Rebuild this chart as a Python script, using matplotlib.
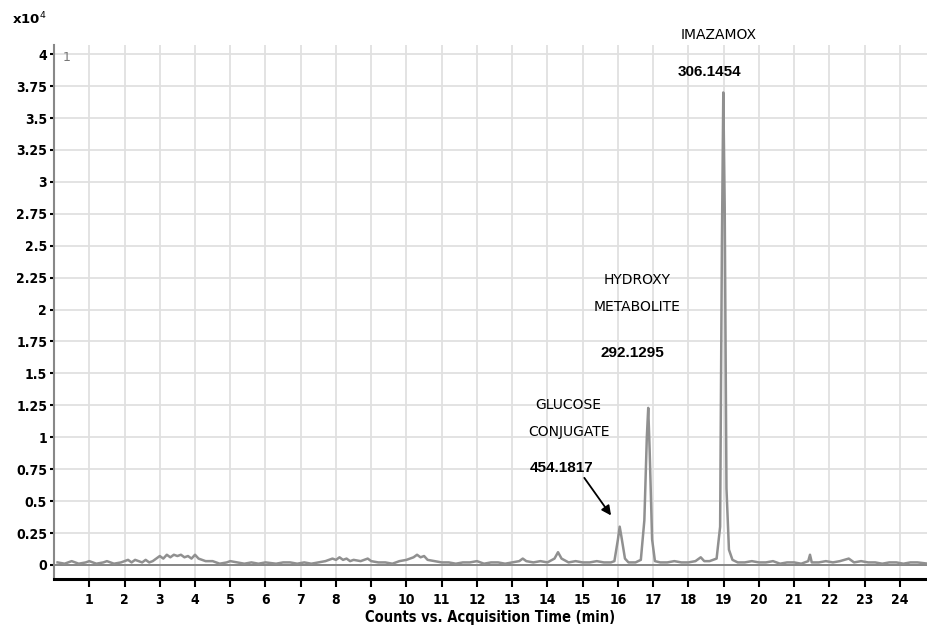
import matplotlib.pyplot as plt

# acquisition time (min) and counts (x10^4)
times = [0.1, 0.3, 0.5, 0.7, 0.9, 1.0, 1.2, 1.4, 1.5, 1.7, 1.9, 2.0, 2.1, 2.2, 2.3, 2.4,
         2.5, 2.6, 2.7, 2.8, 2.9, 3.0, 3.1, 3.2, 3.3, 3.4, 3.5, 3.6, 3.7, 3.8, 3.9, 4.0,
         4.1, 4.2, 4.3, 4.5, 4.7, 4.9, 5.0, 5.2, 5.4, 5.6, 5.8, 6.0, 6.3, 6.5, 6.7, 6.9,
         7.1, 7.3, 7.5, 7.7, 7.8, 7.9, 8.0, 8.1, 8.2, 8.3, 8.4, 8.5, 8.7, 8.9, 9.0, 9.2,
         9.4, 9.6, 9.8, 10.0, 10.2, 10.3, 10.4, 10.5, 10.6, 10.8, 11.0, 11.2, 11.4, 11.6,
         11.8, 12.0, 12.2, 12.4, 12.6, 12.8, 13.0, 13.2, 13.3, 13.4, 13.6, 13.8, 14.0,
         14.2, 14.3, 14.4, 14.6, 14.8, 15.0, 15.2, 15.4, 15.6, 15.8, 15.9, 16.0, 16.05,
         16.1, 16.2, 16.3, 16.5, 16.65, 16.75, 16.82, 16.86, 16.9, 16.97, 17.05, 17.2,
         17.4, 17.6, 17.8, 18.0, 18.2, 18.35, 18.45, 18.6, 18.8, 18.9, 18.95, 18.99,
         19.03, 19.08, 19.15, 19.25, 19.4, 19.6, 19.8, 20.0, 20.2, 20.4, 20.6, 20.8,
         21.0, 21.2, 21.4, 21.45, 21.5, 21.7, 21.9, 22.1, 22.3, 22.55, 22.7, 22.9, 23.1,
         23.3, 23.5, 23.7, 23.9, 24.1, 24.3, 24.5, 24.8]
counts = [0.02, 0.01, 0.03, 0.01, 0.02, 0.03, 0.01, 0.02, 0.03, 0.01, 0.02, 0.03, 0.04, 0.02,
          0.04, 0.03, 0.02, 0.04, 0.02, 0.03, 0.05, 0.07, 0.05, 0.08, 0.06, 0.08, 0.07, 0.08,
          0.06, 0.07, 0.05, 0.08, 0.05, 0.04, 0.03, 0.03, 0.01, 0.02, 0.03, 0.02, 0.01, 0.02,
          0.01, 0.02, 0.01, 0.02, 0.02, 0.01, 0.02, 0.01, 0.02, 0.03, 0.04, 0.05, 0.04, 0.06,
          0.04, 0.05, 0.03, 0.04, 0.03, 0.05, 0.03, 0.02, 0.02, 0.01, 0.03, 0.04, 0.06, 0.08,
          0.06, 0.07, 0.04, 0.03, 0.02, 0.02, 0.01, 0.02, 0.02, 0.03, 0.01, 0.02, 0.02, 0.01,
          0.02, 0.03, 0.05, 0.03, 0.02, 0.03, 0.02, 0.05, 0.10, 0.05, 0.02, 0.03, 0.02, 0.02,
          0.03, 0.02, 0.02, 0.03, 0.20, 0.30, 0.22, 0.05, 0.02, 0.02, 0.04, 0.35, 1.00, 1.23,
          0.90, 0.20, 0.03, 0.02, 0.02, 0.03, 0.02, 0.02, 0.03, 0.06, 0.03, 0.03, 0.05, 0.30,
          2.50, 3.70, 2.80, 0.60, 0.12, 0.04, 0.02, 0.02, 0.03, 0.02, 0.02, 0.03, 0.01, 0.02,
          0.02, 0.01, 0.03, 0.08, 0.02, 0.02, 0.03, 0.02, 0.03, 0.05, 0.02, 0.03, 0.02, 0.02,
          0.01, 0.02, 0.02, 0.01, 0.02, 0.02, 0.01]

xticks = list(range(1, 25))
yticks = [0, 0.25, 0.5, 0.75, 1, 1.25, 1.5, 1.75, 2, 2.25, 2.5, 2.75, 3, 3.25, 3.5, 3.75, 4]
ylabels = ['0', '0.25', '0.5', '0.75', '1', '1.25', '1.5', '1.75', '2', '2.25', '2.5',
           '2.75', '3', '3.25', '3.5', '3.75', '4']

tickfont = ['DejaVu Sans']

fig = plt.figure(figsize=(9.27, 6.28), dpi=100)
ax = fig.add_axes([0.0583, 0.078, 0.9417, 0.85])

ax.plot(times, counts, color='#909090', lw=1.8)
ax.axhline(0, color='#777777', lw=1.2, zorder=1)

ax.set_xlim(0, 24.77)
ax.set_ylim(-0.11, 4.07)
ax.set_xticks(xticks)
ax.set_yticks(yticks)
ax.set_yticklabels(ylabels)
ax.grid(True, color='#e0e0e0', lw=1.3)
ax.set_axisbelow(True)

for s in ['top', 'right']:
    ax.spines[s].set_visible(False)
ax.spines['left'].set_color('#888888')
ax.spines['left'].set_linewidth(1.5)
ax.spines['bottom'].set_color('black')
ax.spines['bottom'].set_linewidth(2.2)

ax.tick_params(axis='x', direction='out', length=6, width=1.5, color='black', pad=4)
ax.tick_params(axis='y', direction='out', length=3, width=1.5, color='black', pad=2)
for lab in ax.get_xticklabels() + ax.get_yticklabels():
    lab.set_family(tickfont)
    lab.set_fontweight('bold')
    lab.set_fontstretch('condensed')
    lab.set_fontsize(10)

ax.set_xlabel('Counts vs. Acquisition Time (min)', family=tickfont, fontweight='bold',
              fontstretch='condensed', fontsize=10.5, labelpad=2)

fig.text(0.013, 0.962, 'x10$^{4}$', family=tickfont, fontweight='bold', fontsize=9.5)
ax.text(0.25, 3.97, '1', color='#777777', fontsize=9, va='center')

lbl = dict(family=['DejaVu Sans'], fontsize=10, ha='center', va='center')
num = dict(family=['Liberation Sans', 'DejaVu Sans'], fontweight='bold', fontsize=11,
           ha='center', va='center')
ax.text(18.85, 4.15, 'IMAZAMOX', **lbl, clip_on=False)
ax.text(18.6, 3.86, '306.1454', **num)
ax.text(16.55, 2.23, 'HYDROXY', **lbl)
ax.text(16.55, 2.02, 'METABOLITE', **lbl)
ax.text(16.4, 1.66, '292.1295', **num)
ax.text(14.6, 1.25, 'GLUCOSE', **lbl)
ax.text(14.6, 1.04, 'CONJUGATE', **lbl)
ax.text(14.4, 0.76, '454.1817', **num)
ax.annotate('', xy=(15.85, 0.37), xytext=(15.0, 0.70),
            arrowprops=dict(arrowstyle='-|>', color='black', lw=1.3, mutation_scale=14))

fig.savefig('out.png', dpi=100)
